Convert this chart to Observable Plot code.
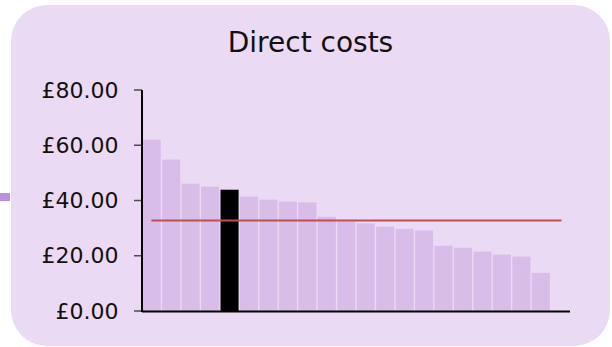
<!DOCTYPE html>
<html>
<head>
<meta charset="utf-8">
<script src="https://cdn.jsdelivr.net/npm/d3@7"></script>
<script src="https://cdn.jsdelivr.net/npm/@observablehq/plot@0.6"></script>
<style>
  html, body { margin: 0; padding: 0; background: #ffffff; }
  #wrap { position: relative; width: 612px; height: 347px; overflow: hidden; }
  #panel { position: absolute; left: 11px; top: 5px; width: 599px; height: 341px;
           border-radius: 36px; background: #ebdaf3; }
  #marker { position: absolute; left: 0; top: 193px; width: 10px; height: 8px; background: #bf8fdf; }
  #title { position: absolute; left: 11px; width: 599px; top: 29px; text-align: center;
           font-family: "DejaVu Sans", Verdana, sans-serif; font-size: 28px; line-height: 28px; color: #111; }
  #chart { position: absolute; left: 0; top: 0; }
</style>
</head>
<body>
<div id="wrap">
  <div id="panel"></div>
  <div id="marker"></div>
  <div id="title">Direct costs</div>
  <div id="chart"></div>
</div>
<script>
// 22 category slots on the x axis (the last one is empty)
const categories = ["1","2","3","4","5","6","7","8","9","10","11","12","13","14","15","16","17","18","19","20","21","22"];
// Direct costs per unit (£), sorted descending
const costs = [62.0, 54.8, 46.1, 45.0, 43.9, 41.4, 40.3, 39.6, 39.3, 34.1, 32.4, 31.7, 30.5, 29.7, 29.2, 23.6, 22.9, 21.5, 20.4, 19.7, 13.8];
const highlightIndex = 4;
const averageCost = 32.9;
const yTicks = [0, 20, 40, 60, 80];

const bars = costs.map((v, i) => ({cat: categories[i], v, hi: i === highlightIndex}));
const avgLine = categories.map(c => ({cat: c, v: averageCost}));

const chart = Plot.plot({
  width: 612,
  height: 347,
  marginLeft: 142,
  marginRight: 42,
  marginTop: 90,
  marginBottom: 36,
  style: {background: "transparent", fontFamily: "DejaVu Sans, Verdana, sans-serif", fontSize: "22px", color: "#111"},
  x: {domain: categories, paddingInner: 0.07, paddingOuter: 0.035, round: false, axis: null},
  y: {domain: [0, 80]},
  color: {type: "identity"},
  marks: [
    Plot.barY(bars, {x: "cat", y: "v", fill: d => d.hi ? "#000000" : "#d9bde9"}),
    Plot.lineY(avgLine, {x: "cat", y: "v", stroke: "#c0504d", strokeWidth: 2}),
    Plot.ruleY([0], {stroke: "#000", strokeWidth: 2}),
    // y axis line and tick marks, positioned through the y scale
    (index, scales, values, dims) => {
      const x0 = dims.marginLeft;
      const g = d3.create("svg:g");
      g.selectAll("line.tick").data(yTicks).join("line")
        .attr("x1", x0 - 8).attr("x2", x0)
        .attr("y1", d => scales.y(d)).attr("y2", d => scales.y(d))
        .attr("stroke", "#4d4d4d").attr("stroke-width", 1.5);
      g.append("line")
        .attr("x1", x0).attr("x2", x0)
        .attr("y1", scales.y(80)).attr("y2", scales.y(0) + 1)
        .attr("stroke", "#000").attr("stroke-width", 2);
      return g.node();
    },
    Plot.axisY({ticks: yTicks, tickFormat: d => "£" + d.toFixed(2), tickSize: 0, tickPadding: 24,
                label: null, fill: "#111", fontSize: 22})
  ]
});
document.getElementById("chart").appendChild(chart);
</script>
</body>
</html>
